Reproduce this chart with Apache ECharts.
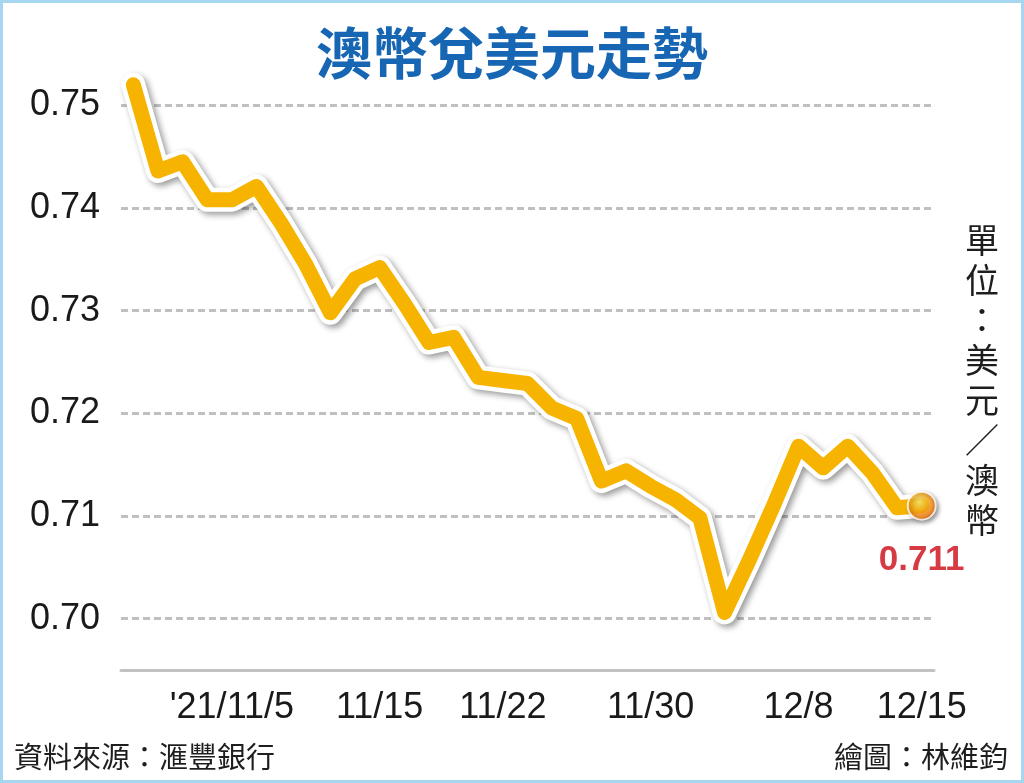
<!DOCTYPE html>
<html>
<head>
<meta charset="utf-8">
<script src="https://cdn.jsdelivr.net/npm/echarts@6/dist/echarts.min.js"></script>
<style>
html,body{margin:0;padding:0;background:#fff;}
#chart{width:1024px;height:783px;}
</style>
</head>
<body>
<div id="chart"></div>
<script>
// Trading dates (2021)
const dates = ['11/1','11/2','11/3','11/4','11/5','11/8','11/9','11/10','11/11','11/12',
  '11/15','11/16','11/17','11/18','11/19','11/22','11/23','11/24','11/25','11/26',
  '11/29','11/30','12/1','12/2','12/3','12/6','12/7','12/8','12/9','12/10',
  '12/13','12/14','12/15'];
// AUD/USD (USD per AUD)
const values = [0.7520,0.7436,0.7445,0.7408,0.7408,0.7421,0.7385,0.7345,0.7298,0.7331,
  0.7342,0.7307,0.7269,0.7274,0.7235,0.7232,0.7229,0.7205,0.7195,0.7134,
  0.7144,0.7129,0.7116,0.7098,0.7006,0.7057,0.7111,0.7168,0.7147,0.7168,
  0.7142,0.7108,0.7110];
// x tick labels
const labelDates = ['11/5','11/15','11/22','11/30','12/8','12/15'];
const labelTexts = ["'21/11/5",'11/15','11/22','11/30','12/8','12/15'];
// y grid values
const gridValues = [0.70,0.71,0.72,0.73,0.74,0.75];

const lastIdx = values.length - 1;
const cjk = '"Noto Sans CJK TC","Noto Sans CJK SC",sans-serif';
const latin = '"Liberation Sans",Arial,sans-serif';

const chart = echarts.init(document.getElementById('chart'));
const showDate = (i, v) => labelDates.indexOf(v) >= 0;

chart.setOption({
  backgroundColor: '#ffffff',
  animation: false,
  title: {
    text: '澳幣兌美元走勢',
    left: 'center',
    top: 20,
    textStyle: {fontFamily: cjk, fontSize: 56, fontWeight: 'bold', color: '#1766b3'}
  },
  grid: {left: 121, right: 90, top: 54, bottom: 113},
  xAxis: {
    type: 'category',
    data: dates,
    boundaryGap: true,
    axisLine: {lineStyle: {color: '#c2c2c2', width: 3}},
    axisTick: {alignWithLabel: true, interval: showDate, length: 10, lineStyle: {color: '#c2c2c2', width: 3}},
    axisLabel: {
      interval: showDate,
      margin: 20,
      fontFamily: latin, fontSize: 36, color: '#1a1a1a',
      formatter: v => labelTexts[labelDates.indexOf(v)]
    },
    splitLine: {show: false}
  },
  yAxis: {
    type: 'value',
    min: 0.695, max: 0.755, interval: 0.005,
    axisLine: {show: false}, axisTick: {show: false}, splitLine: {show: false},
    axisLabel: {
      margin: 21, fontFamily: latin, fontSize: 36, color: '#1a1a1a',
      formatter: v => (Math.round(v * 1000) % 10 === 0) ? v.toFixed(2) : ''
    }
  },
  series: [
    {
      type: 'line', data: values, symbol: 'none', z: 2, silent: true,
      lineStyle: {color: '#ffffff', width: 24, cap: 'round', join: 'round',
        shadowColor: 'rgba(0,0,0,0.4)', shadowBlur: 6, shadowOffsetX: 3, shadowOffsetY: 3},
      markLine: {
        silent: true, symbol: 'none', z: 1,
        label: {show: false},
        lineStyle: {color: '#c0c0c0', width: 3, type: [7, 4]},
        data: gridValues.map(v => ({yAxis: v}))
      }
    },
    {
      type: 'line', data: values, symbol: 'none', z: 3, silent: true,
      lineStyle: {color: '#f6b400', width: 15, cap: 'round', join: 'round'}
    },
    {
      type: 'scatter', z: 4,
      data: [[dates[lastIdx], values[lastIdx]]],
      symbolSize: 28,
      itemStyle: {
        color: {type: 'radial', x: 0.42, y: 0.38, r: 0.62, colorStops: [
          {offset: 0, color: '#fff27a'}, {offset: 0.45, color: '#ffb51c'}, {offset: 1, color: '#ef5f08'}]},
        borderColor: '#ffffff', borderWidth: 2,
        shadowColor: 'rgba(0,0,0,0.3)', shadowBlur: 4, shadowOffsetX: 2, shadowOffsetY: 2
      },
      label: {
        show: true, position: 'bottom', distance: 22,
        formatter: p => p.value[1].toFixed(3),
        fontFamily: latin, fontSize: 35, fontWeight: 'bold', color: '#cc0a14'
      }
    }
  ],
  graphic: [
    {type: 'rect', shape: {x: 1.5, y: 1.5, width: 1021, height: 780},
      style: {fill: 'none', stroke: '#a6d6f0', lineWidth: 3}, silent: true},
    {type: 'text', x: 982, y: 220,
      style: {text: '單位：美元／澳幣'.split('').join('\n'), fontFamily: cjk, fontSize: 34,
        lineHeight: 40, fill: '#1e1e1e', textAlign: 'center', textVerticalAlign: 'top'}},
    {type: 'text', x: 14, y: 757,
      style: {text: '資料來源：滙豐銀行', fontFamily: cjk, fontSize: 29, fill: '#1e1e1e',
        textAlign: 'left', textVerticalAlign: 'middle'}},
    {type: 'text', x: 1008, y: 757,
      style: {text: '繪圖：林維鈞', fontFamily: cjk, fontSize: 29, fill: '#1e1e1e',
        textAlign: 'right', textVerticalAlign: 'middle'}}
  ]
});
</script>
</body>
</html>
